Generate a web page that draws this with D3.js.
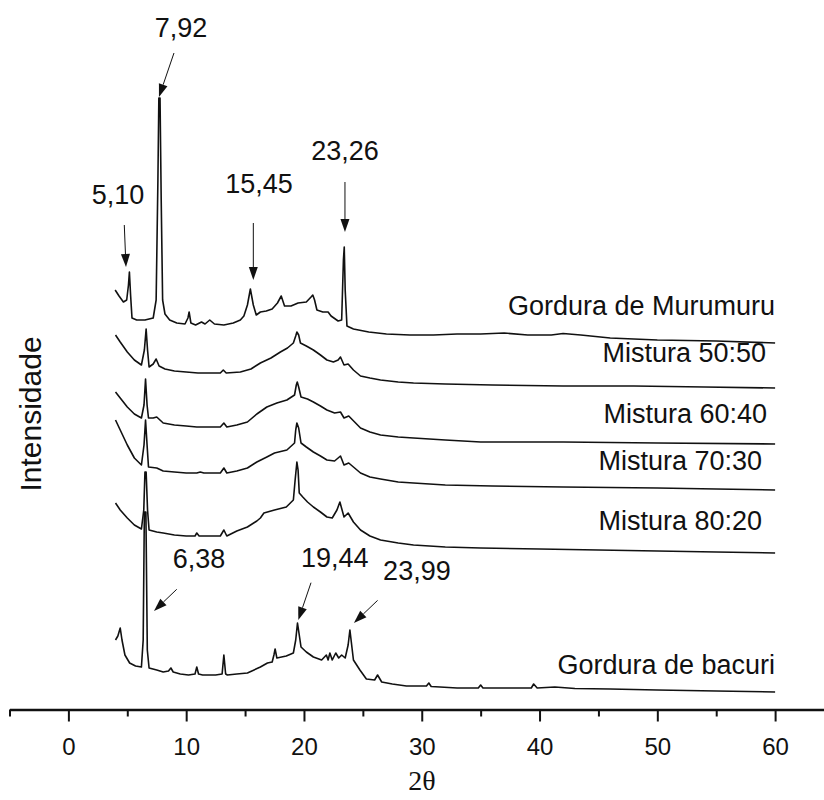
<!DOCTYPE html>
<html>
<head>
<meta charset="utf-8">
<script src="https://cdn.jsdelivr.net/npm/d3@7"></script>
<style>
  body { margin: 0; background: #fff; }
  text { font-family: "Liberation Sans", Arial, sans-serif; fill: #111; }
</style>
</head>
<body>
<svg id="chart" width="824" height="800"></svg>
<script>
// XRD patterns, [2theta, intensity a.u.]
const murumuru = [[3.97,53],[4.3,47],[4.67,41],[4.95,43],[5.1,58],[5.18,71],[5.28,48],[5.4,25],[5.8,23],[6.5,23],[7.2,25],[7.45,43],[7.6,163],[7.68,245],[7.78,245],[7.88,143],[8.0,43],[8.2,29],[8.6,23],[9.2,20],[9.9,19],[10.15,25],[10.25,31],[10.4,20],[10.8,18],[11.3,21],[11.6,19],[12.0,23],[12.4,19],[13.2,18],[14.0,20],[14.6,23],[14.9,27],[15.2,38],[15.45,54],[15.7,38],[15.95,28],[16.3,31],[16.8,32],[17.3,34],[17.75,40],[18.07,47],[18.35,37],[18.9,37],[19.5,40],[20.2,41],[20.6,46],[20.75,48],[20.9,43],[21.1,33],[21.6,31],[22.05,31],[22.3,27],[22.9,22],[23.2,23],[23.35,83],[23.42,96],[23.5,53],[23.65,17],[24.2,14],[25.5,11],[27,9],[29,8],[31,8],[33,9],[35,9],[37,10],[39,8],[41,8],[42,9.5],[43.5,8],[46,5],[50,3],[55,2],[60,0]];
const mix5050 = [[4.0,53],[4.4,46],[5.0,36],[5.6,28],[6.2,23],[6.45,38],[6.6,59],[6.72,38],[6.85,21],[7.2,24],[7.45,29],[7.7,22],[8.2,19],[9.0,17],[10.0,16],[11.0,15],[12.0,15],[12.9,15],[13.15,18],[13.4,15],[14.6,16],[15.5,19],[16.3,25],[17.2,30],[18.0,36],[18.6,40],[19.1,45],[19.3,52],[19.4,56],[19.55,53],[19.7,45],[20.2,42],[20.8,38],[21.4,33],[21.95,28],[22.5,26],[22.9,28],[23.1,31],[23.4,23],[23.75,24],[24.2,18],[24.8,12],[25.6,10],[26.5,8],[28,6],[29.3,5],[32,4],[36,3],[42,2],[48,2],[54,1],[60,0]];
const mix6040 = [[4.0,52],[4.4,46],[5.0,37],[5.6,30],[6.2,26],[6.42,39],[6.55,65],[6.68,39],[6.8,26],[7.2,26],[7.5,27],[8.05,21],[9.0,19],[10.0,18],[10.9,17],[12.0,17],[12.9,17],[13.2,21],[13.45,17],[14.3,19],[15.2,22],[16.0,30],[16.85,37],[17.7,41],[18.55,44],[19.2,49],[19.35,59],[19.43,62],[19.55,57],[19.75,47],[20.3,45],[20.8,42],[21.4,38],[21.95,34],[22.6,31],[23.1,32],[23.4,26],[23.8,28],[24.3,22],[24.8,16],[25.6,12],[26.5,9],[28,7],[29.3,6],[32,4],[35,2],[42,2],[50,1],[60,0]];
const mix7030 = [[4.0,70],[4.4,60],[5.0,45],[5.6,32],[6.2,25],[6.42,45],[6.55,70],[6.68,45],[6.8,23],[7.5,22],[8.05,19],[9.0,18],[10.0,17],[10.9,17],[11.2,18],[11.5,17],[12.9,17],[13.2,22],[13.45,17],[14.3,19],[15.2,22],[16.0,28],[16.85,33],[17.5,37],[18.55,40],[19.2,47],[19.3,60],[19.4,67],[19.55,62],[19.75,47],[20.2,43],[20.8,38],[21.4,34],[21.95,30],[22.6,29],[23.1,34],[23.4,25],[23.8,27],[24.3,22],[24.8,17],[25.6,13],[26.5,11],[28,8],[29.3,7],[32,5],[36,4],[42,3],[50,2],[55,1],[60,0]];
const mix8020 = [[4.0,50],[4.4,43],[5.0,35],[5.6,28],[6.2,24],[6.4,43],[6.5,81],[6.6,81],[6.72,43],[6.85,23],[7.5,21],[8.05,20],[9.0,18],[10.0,17],[10.75,17],[10.9,20],[11.1,17],[12.9,17],[13.2,23],[13.45,17],[14.3,22],[15.2,26],[16.0,32],[16.3,35],[16.6,40],[16.9,41],[17.5,43],[18.5,46],[19.1,53],[19.25,73],[19.4,91],[19.5,83],[19.6,60],[19.9,56],[20.3,51],[20.8,46],[21.4,41],[21.95,36],[22.4,35],[22.8,43],[23.05,51],[23.4,36],[23.75,40],[24.2,31],[24.8,23],[25.6,17],[26.5,13],[28,10],[29.3,8],[32,6],[35,5],[40,4],[45,3],[50,2],[55,1],[60,0]];
const bacuri = [[4.0,52],[4.2,56],[4.4,64],[4.55,52],[4.8,37],[5.2,29],[5.7,26],[6.2,25],[6.35,52],[6.45,180],[6.58,180],[6.7,42],[6.85,24],[7.5,22],[8.05,20],[8.5,21],[8.7,24],[8.9,20],[9.5,18],[10.2,17],[10.75,18],[10.9,25],[11.05,18],[11.4,17],[12.5,17],[13.05,18],[13.2,37],[13.35,18],[13.5,17],[14.3,18],[15.2,19],[16.3,25],[16.9,29],[17.3,30],[17.45,37],[17.55,43],[17.7,34],[18.5,36],[19.1,39],[19.3,52],[19.45,69],[19.6,57],[19.75,45],[20.2,40],[20.8,35],[21.5,32],[21.9,37],[22.05,32],[22.2,39],[22.4,32],[22.7,39],[22.95,34],[23.2,37],[23.5,34],[23.75,47],[23.9,62],[24.05,47],[24.2,32],[24.75,22],[25.3,13],[26.0,12],[26.25,17],[26.6,10],[27.5,8],[28.7,6],[30.4,6],[30.6,9],[30.8,5.5],[31.55,5],[33,4],[34.8,4],[35,7],[35.2,4],[37,4],[39.3,4],[39.5,8],[39.8,4],[41.3,5],[43,3.5],[46,3],[50,2],[55,1],[60,0]];

const seriesData = [murumuru, mix5050, mix6040, mix7030, mix8020, bacuri];
const seriesNames = ["Gordura de Murumuru", "Mistura 50:50", "Mistura 60:40", "Mistura 70:30", "Mistura 80:20", "Gordura de bacuri"];
const seriesOffsets = [367, 322, 266, 220, 157, 18];

const majorTicks = [0, 10, 20, 30, 40, 50, 60];
const minorTicks = [-5, 5, 15, 25, 35, 45, 55, 65];

// peak annotations: series index, label, tip [2theta, local intensity]
const peakSeries = [0, 0, 0, 0, 5, 5, 5];
const peakLabels = ["5,10", "7,92", "15,45", "23,26", "6,38", "19,44", "23,99"];
const peakTips = [[4.89,76],[7.69,246],[15.7,63],[23.48,111],[7.27,81],[19.52,72],[24.24,69]];

// layout
const arrowTail = [[-1.7,-42],[15,-44],[0,-57],[0,-50],[22.7,-21.7],[12.7,-37.3],[23.7,-22.6]];
const labelOffset = [[-8,-63],[22,-60],[5.7,-87],[0,-72],[45,-43],[36.4,-53.3],[63,-42.6]];
const nameShift = [[0,-28],[-9,-26],[-8,-21],[-13,-20],[-13,-23],[0,-18]];

const svg = d3.select("#chart");
const x = d3.scaleLinear().domain([-5, 65]).range([9.5, 834]);
const y = d3.scaleLinear().domain([0, 700]).range([710, 10]);

const line = d3.line()
    .x(d => x(d[0]))
    .y(d => y(d[1]));

svg.append("g")
  .selectAll("path")
  .data(seriesData)
  .join("path")
    .attr("fill", "none")
    .attr("stroke", "#111")
    .attr("stroke-width", 1.6)
    .attr("stroke-linejoin", "round")
    .attr("d", (s, i) => line(s.map(d => [d[0], d[1] + seriesOffsets[i]])));

// series names, right aligned at the end of each trace
svg.append("g")
  .selectAll("text")
  .data(seriesNames)
  .join("text")
    .attr("x", (d, i) => x(60) + nameShift[i][0])
    .attr("y", (d, i) => y(seriesOffsets[i]) + nameShift[i][1])
    .attr("text-anchor", "end")
    .attr("font-size", 27)
    .text(d => d);

// peak arrows
const ann = svg.append("g");
peakLabels.forEach((lab, i) => {
  const off = seriesOffsets[peakSeries[i]];
  const tx = x(peakTips[i][0]), ty = y(peakTips[i][1] + off);
  const sx = tx + arrowTail[i][0], sy = ty + arrowTail[i][1];
  const len = Math.hypot(tx - sx, ty - sy);
  const ux = (tx - sx) / len, uy = (ty - sy) / len;
  const bx = tx - ux * 13, by = ty - uy * 13;
  ann.append("line")
      .attr("x1", sx).attr("y1", sy)
      .attr("x2", bx).attr("y2", by)
      .attr("stroke", "#111")
      .attr("stroke-width", 1);
  ann.append("path")
      .attr("d", `M${tx},${ty}L${bx - uy * 4.5},${by + ux * 4.5}L${bx + uy * 4.5},${by - ux * 4.5}Z`)
      .attr("fill", "#111");
  ann.append("text")
      .attr("x", tx + labelOffset[i][0])
      .attr("y", ty + labelOffset[i][1])
      .attr("text-anchor", "middle")
      .attr("font-size", 27)
      .text(lab);
});

// bottom axis
const axisY = y(0) - 0.5;
const gx = svg.append("g").attr("transform", `translate(0,${axisY})`);
gx.call(d3.axisBottom(x).tickValues(majorTicks).tickSize(12).tickSizeOuter(0).tickPadding(16));
gx.select(".domain").attr("stroke", "#111").attr("stroke-width", 2.5);
gx.selectAll(".tick line").attr("stroke", "#111").attr("stroke-width", 2);
gx.selectAll(".tick text")
    .attr("font-size", 24)
    .attr("font-family", "Liberation Sans, Arial, sans-serif")
    .attr("fill", "#111");

const gm = svg.append("g").attr("transform", `translate(0,${axisY})`);
gm.call(d3.axisBottom(x).tickValues(minorTicks).tickSize(7).tickFormat(""));
gm.select(".domain").remove();
gm.selectAll(".tick line").attr("stroke", "#111").attr("stroke-width", 2);

// axis titles
svg.append("text")
    .attr("x", 422)
    .attr("y", 790)
    .attr("text-anchor", "middle")
    .style("font-family", "'Liberation Serif', 'Times New Roman', serif")
    .attr("font-size", 28)
    .text("2θ");

svg.append("text")
    .attr("transform", "translate(41,414) rotate(-90)")
    .attr("text-anchor", "middle")
    .attr("font-size", 30)
    .text("Intensidade");
</script>
</body>
</html>
